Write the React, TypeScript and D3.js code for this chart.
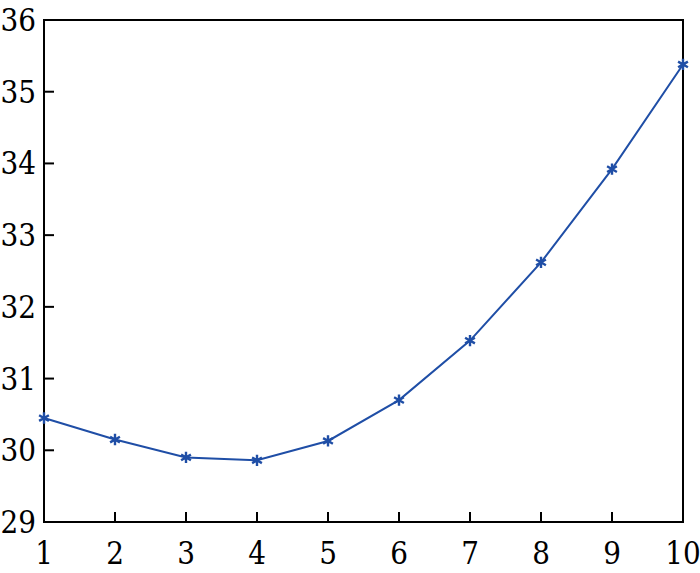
import React, { useEffect, useRef } from 'react';
import * as d3 from 'd3';

const xValues = [1, 2, 3, 4, 5, 6, 7, 8, 9, 10];
const yValues = [30.45, 30.15, 29.9, 29.86, 30.13, 30.7, 31.53, 32.62, 33.92, 35.38];
const yTicks = [29, 30, 31, 32, 33, 34, 35, 36];

const LineChart = () => {
  const svgRef = useRef(null);

  useEffect(() => {
    const width = 700;
    const height = 573;
    const margin = { top: 20, right: 17, bottom: 51, left: 44 };
    const color = '#1f4ea6';

    const svg = d3.select(svgRef.current);
    svg.selectAll('*').remove();
    svg.attr('width', width).attr('height', height);

    const x = d3.scaleLinear().domain([1, 10]).range([margin.left, width - margin.right]);
    const y = d3.scaleLinear().domain([29, 36]).range([height - margin.bottom, margin.top]);

    const font = "'DejaVu Serif Condensed', 'DejaVu Serif', serif";

    // Ticks (inward)
    const g = svg.append('g');
    xValues.forEach(v => {
      g.append('line')
        .attr('x1', x(v)).attr('x2', x(v))
        .attr('y1', y(29)).attr('y2', y(29) - 10)
        .attr('stroke', '#000').attr('stroke-width', 2);
      g.append('text')
        .attr('x', x(v)).attr('y', height - 9)
        .attr('text-anchor', 'middle')
        .attr('font-family', font).attr('font-size', 31)
        .attr('font-stretch', 'condensed')
        .text(v);
    });
    yTicks.forEach(v => {
      g.append('line')
        .attr('x1', x(1)).attr('x2', x(1) + 10)
        .attr('y1', y(v)).attr('y2', y(v))
        .attr('stroke', '#000').attr('stroke-width', 2);
      g.append('text')
        .attr('x', 36).attr('y', y(v) + 11)
        .attr('text-anchor', 'end')
        .attr('font-family', font).attr('font-size', 31)
        .attr('font-stretch', 'condensed')
        .text(v);
    });

    // Frame
    svg.append('rect')
      .attr('x', margin.left).attr('y', margin.top)
      .attr('width', width - margin.left - margin.right)
      .attr('height', height - margin.top - margin.bottom)
      .attr('fill', 'none').attr('stroke', '#000').attr('stroke-width', 2);

    const data = xValues.map((v, i) => ({ x: v, y: yValues[i] }));

    svg.append('path')
      .datum(data)
      .attr('fill', 'none')
      .attr('stroke', color)
      .attr('stroke-width', 2)
      .attr('d', d3.line<any>().x(d => x(d.x)).y(d => y(d.y)));

    // Asterisk markers
    const star = d3.symbol().type(d3.symbolAsterisk).size(90);
    svg.append('g').selectAll('path')
      .data(data)
      .enter()
      .append('path')
      .attr('transform', d => `translate(${x(d.x)},${y(d.y)})`)
      .attr('d', star() as string)
      .attr('fill', 'none')
      .attr('stroke', color)
      .attr('stroke-width', 2.4);
  }, []);

  return <svg ref={svgRef} style={{ display: 'block', position: 'absolute', left: 0, top: 0 }}></svg>;
};

export default function App() {
  return <LineChart />;
}
